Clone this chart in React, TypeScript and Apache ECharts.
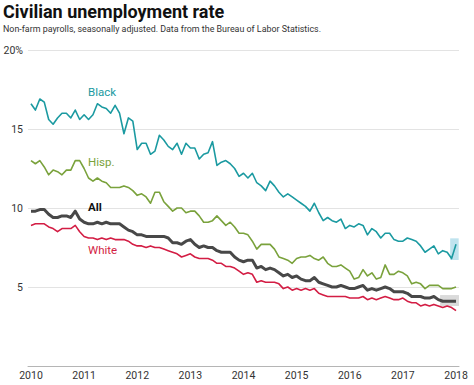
import React, { useEffect, useRef } from 'react';
import * as echarts from 'echarts';

// Monthly observations, Jan 2010 .. Jan 2018
const startYear = 2010;
const monthCount = 97;
const months: number[] = Array.from({ length: monthCount }, (_, i) => startYear + i / 12);

const black = [
  16.6, 16.2, 16.9, 16.7, 15.6, 15.3, 15.7, 16.0, 16.0, 15.7, 16.2, 15.6,
  15.9, 15.6, 15.9, 16.6, 16.4, 16.3, 16.0, 16.5, 16.0, 14.7, 15.7, 15.5,
  13.7, 14.1, 14.1, 13.4, 13.6, 14.6, 14.3, 13.9, 13.7, 14.1, 13.4, 14.1,
  13.8, 13.8, 13.1, 13.4, 13.5, 14.2, 12.7, 12.9, 13.0, 12.8, 12.5, 12.0,
  12.2, 11.9, 12.2, 11.6, 11.4, 11.1, 11.7, 11.4, 11.0, 10.7, 10.9, 10.7,
  10.5, 10.3, 10.1, 9.8, 10.3, 9.7, 9.2, 9.4, 9.2, 9.1, 9.3, 8.7,
  8.9, 8.8, 9.0, 8.9, 8.3, 8.7, 8.5, 8.1, 8.4, 8.4, 8.0, 7.9,
  7.9, 8.1, 8.0, 7.9, 7.6, 7.2, 7.4, 7.6, 7.1, 7.3, 7.2, 6.8,
  7.7,
];

const hisp = [
  13.0, 12.8, 13.0, 12.6, 12.1, 12.4, 12.3, 12.1, 12.4, 12.4, 13.0, 13.0,
  12.5, 11.9, 11.7, 11.9, 11.7, 11.6, 11.3, 11.3, 11.3, 11.4, 11.3, 11.1,
  10.8, 10.9, 10.7, 10.3, 11.0, 11.0, 10.4, 10.1, 9.8, 10.0, 10.0, 9.7,
  9.8, 9.8, 9.5, 9.1, 9.1, 9.2, 9.5, 9.2, 8.9, 9.1, 8.8, 8.4,
  8.4, 8.3, 7.9, 7.4, 7.7, 7.7, 7.7, 7.4, 6.9, 6.8, 6.7, 6.5,
  6.8, 6.9, 6.9, 7.0, 6.8, 6.7, 6.9, 6.5, 6.3, 6.3, 6.4, 6.2,
  6.0, 5.5, 5.6, 6.1, 5.7, 5.9, 5.5, 5.6, 6.4, 5.8, 5.8, 6.0,
  5.9, 5.7, 5.2, 5.3, 5.2, 4.9, 5.1, 5.1, 5.1, 4.9, 4.9, 4.9,
  5.0,
];

const all = [
  9.8, 9.8, 9.9, 9.9, 9.6, 9.4, 9.4, 9.5, 9.5, 9.4, 9.8, 9.3,
  9.1, 9.0, 9.0, 9.1, 9.0, 9.1, 9.0, 9.0, 9.0, 8.8, 8.6, 8.5,
  8.3, 8.3, 8.2, 8.2, 8.2, 8.2, 8.2, 8.1, 7.8, 7.8, 7.7, 7.9,
  8.0, 7.7, 7.5, 7.6, 7.5, 7.5, 7.3, 7.2, 7.2, 7.2, 6.9, 6.7,
  6.6, 6.7, 6.7, 6.2, 6.3, 6.1, 6.2, 6.1, 5.9, 5.7, 5.8, 5.6,
  5.7, 5.5, 5.4, 5.4, 5.6, 5.3, 5.2, 5.1, 5.0, 5.0, 5.1, 5.0,
  4.9, 4.9, 5.0, 5.1, 4.8, 4.9, 4.8, 4.9, 5.0, 4.9, 4.7, 4.7,
  4.7, 4.6, 4.4, 4.4, 4.4, 4.3, 4.3, 4.4, 4.2, 4.1, 4.1, 4.1,
  4.1,
];

const white = [
  8.9, 9.0, 9.0, 9.0, 8.8, 8.7, 8.5, 8.7, 8.7, 8.7, 8.9, 8.5,
  8.2, 8.1, 8.1, 8.0, 8.1, 8.0, 8.1, 8.0, 8.0, 8.0, 7.9, 7.7,
  7.6, 7.6, 7.5, 7.6, 7.5, 7.5, 7.4, 7.3, 7.2, 7.1, 6.9, 7.0,
  7.1, 6.9, 6.8, 6.8, 6.8, 6.7, 6.5, 6.5, 6.3, 6.3, 6.2, 6.0,
  5.8, 5.9, 5.8, 5.3, 5.4, 5.3, 5.3, 5.3, 5.2, 4.9, 5.0, 4.8,
  4.9, 4.8, 4.9, 4.8, 4.9, 4.6, 4.5, 4.4, 4.4, 4.4, 4.4, 4.4,
  4.3, 4.3, 4.3, 4.4, 4.2, 4.3, 4.2, 4.3, 4.4, 4.3, 4.2, 4.2,
  4.3, 4.1, 4.0, 4.0, 3.8, 3.9, 3.8, 3.9, 3.8, 3.7, 3.8, 3.7,
  3.5,
];

const yearTicks = [2010, 2011, 2012, 2013, 2014, 2015, 2016, 2017, 2018];

// highlight boxes around the latest readings [x1, y1, x2, y2]
const blackHighlight = [2017.89, 8.08, 2018.05, 6.71];
const allHighlight = [2017.7, 4.49, 2018.098, 3.8];

const TEAL = '#1b9aa1';
const GREEN = '#7aa23c';
const DARK = '#484848';
const RED = '#d31d44';
const FONT = 'Roboto, "Noto Sans", sans-serif';

export default function App() {
  const ref = useRef<HTMLDivElement>(null);
  useEffect(() => {
    const chart = echarts.init(ref.current!, null, { renderer: 'svg' });
    const mk = (vals: number[]) => months.map((x, i) => [x, vals[i]]);
    const lineSeries = (name: string, vals: number[], color: string, width: number, z: number) => ({
      type: 'line',
      name,
      data: mk(vals),
      showSymbol: false,
      symbol: 'none',
      silent: true,
      z,
      lineStyle: { color, width, join: 'round' },
    });
    const label = (text: string, y: number, fill: string, bold = false) => ({
      type: 'text',
      x: 88,
      y,
      z: 20,
      style: { text, fill, font: `${bold ? 'bold ' : ''}11.5px ${FONT}`, verticalAlign: 'middle' },
    });
    chart.setOption({
      animation: false,
      grid: { left: 28, right: 15, top: 50, bottom: 19, containLabel: false },
      xAxis: {
        type: 'value',
        min: 2009.944,
        max: 2018.056,
        axisLine: { show: true, lineStyle: { color: '#b5b5b5', width: 1 } },
        axisTick: { show: false },
        splitLine: { show: false },
        axisLabel: {
          customValues: yearTicks,
          color: '#333',
          fontSize: 10.5,
          margin: 4,
          fontFamily: FONT,
          formatter: (v: number) => String(Math.round(v)),
        },
      },
      yAxis: {
        type: 'value',
        min: 0,
        max: 20,
        interval: 5,
        axisLine: { show: false },
        axisTick: { show: false },
        splitLine: { lineStyle: { color: '#e3e3e3', width: 1 } },
        axisLabel: {
          color: '#333',
          fontSize: 10.5,
          margin: 5,
          fontFamily: FONT,
          formatter: (v: number) => (v === 20 ? '20%' : v === 0 ? '' : String(v)),
        },
      },
      graphic: [
        { type: 'text', x: 3, y: 11, z: 20, style: { text: 'Civilian unemployment rate', fill: '#111', font: `bold 18px ${FONT}`, verticalAlign: 'middle' } },
        { type: 'text', x: 3, y: 29, z: 20, style: { text: 'Non-farm payrolls, seasonally adjusted. Data from the Bureau of Labor Statistics.', fill: '#333', font: `8.9px ${FONT}`, verticalAlign: 'middle' } },
        label('Black', 92, TEAL),
        label('Hisp.', 162, GREEN),
        label('All', 207, '#111', true),
        label('White', 250, RED),
      ],
      series: [
        {
          type: 'line',
          data: [],
          clip: false,
          silent: true,
          z: 1,
          markArea: {
            silent: true,
            data: [
              [
                { coord: [blackHighlight[0], blackHighlight[1]], itemStyle: { color: '#bfe3ee' } },
                { coord: [blackHighlight[2], blackHighlight[3]] },
              ],
              [
                { coord: [allHighlight[0], allHighlight[1]], itemStyle: { color: '#dadada' } },
                { coord: [allHighlight[2], allHighlight[3]] },
              ],
            ],
          },
        },
        lineSeries('Black', black, TEAL, 1.6, 3),
        lineSeries('Hisp.', hisp, GREEN, 1.6, 3),
        lineSeries('White', white, RED, 1.6, 3),
        lineSeries('All', all, DARK, 3, 4),
      ],
    });
    return () => chart.dispose();
  }, []);
  return <div ref={ref} style={{ position: 'absolute', left: 0, top: 0, width: 474, height: 385 }} />;
}
